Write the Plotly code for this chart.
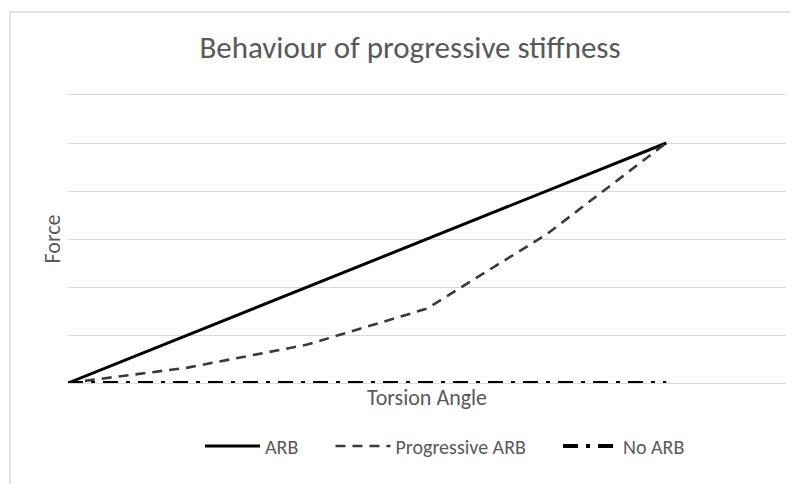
import plotly.graph_objects as go

torsion_angle = [0, 10, 20, 30, 40, 50]
arb = [0, 10, 20, 30, 40, 50]
progressive_arb = [0, 3.2, 8, 15.5, 31, 50]
no_arb = [0, 0, 0, 0, 0, 0]
series_names = ["ARB", "Progressive ARB", "No ARB"]

FONT = "Carlito, Lato, sans-serif"
TXT = "#595959"
PAD = "\u00a0" * 6

fig = go.Figure()
fig.add_trace(go.Scatter(x=torsion_angle, y=arb, mode="lines", name=series_names[0] + PAD,
                         line=dict(color="#000000", width=3)))
fig.add_trace(go.Scatter(x=torsion_angle, y=progressive_arb, mode="lines", name=series_names[1] + PAD,
                         line=dict(color="#3a3a3a", width=2.6, dash="10px,7px")))
fig.add_trace(go.Scatter(x=torsion_angle, y=no_arb, mode="lines", name=series_names[2],
                         line=dict(color="#000000", width=4, dash="15px,8px,4px,8px")))

# page body has an 8px margin: work in reference-screen pixels minus 8
OFF = 8
W, H = 798 - OFF, 484 - OFF
L, R, T, B = 68 - OFF, 798 - 786, 95 - OFF, 484 - 383
pw, ph = W - L - R, H - T - B

def px(x):
    return (x - OFF - L) / pw

def py(y):
    return (H - B - (y - OFF)) / ph

fig.update_layout(
    width=W, height=H,
    margin=dict(l=L, r=R, t=T, b=B, autoexpand=False),
    paper_bgcolor="white", plot_bgcolor="white",
    font=dict(family=FONT, color=TXT),
    title=dict(text="Behaviour of progressive stiffness", x=px(410), xref="paper", xanchor="center",
               y=1 - (47 - OFF) / H, yref="container", yanchor="middle",
               font=dict(size=31, color=TXT, family=FONT)),
    xaxis=dict(range=[0, 60], showgrid=False, zeroline=False, showticklabels=False, ticks="",
               showline=True, mirror=True, linecolor="#d9d9d9", linewidth=1, automargin=False,
               title=dict(text="Torsion Angle", font=dict(size=22, color=TXT), standoff=6)),
    yaxis=dict(range=[0, 60], dtick=10, showgrid=True, gridcolor="#d9d9d9", gridwidth=1,
               zeroline=False, showticklabels=False, ticks="", showline=False, automargin=False,
               title=dict(text="Force", font=dict(size=22, color=TXT), standoff=0)),
    legend=dict(orientation="h", x=px(200), xanchor="left", y=py(446), yanchor="middle",
                font=dict(size=20, color=TXT), bgcolor="rgba(0,0,0,0)", itemwidth=55),
    showlegend=True,
    shapes=[dict(type="rect", xref="paper", yref="paper",
                 x0=px(10), x1=px(815), y0=py(500), y1=py(12),
                 line=dict(color="#d9d9d9", width=1.5), fillcolor="rgba(0,0,0,0)", layer="below")],
)

fig.write_html("out.html")
